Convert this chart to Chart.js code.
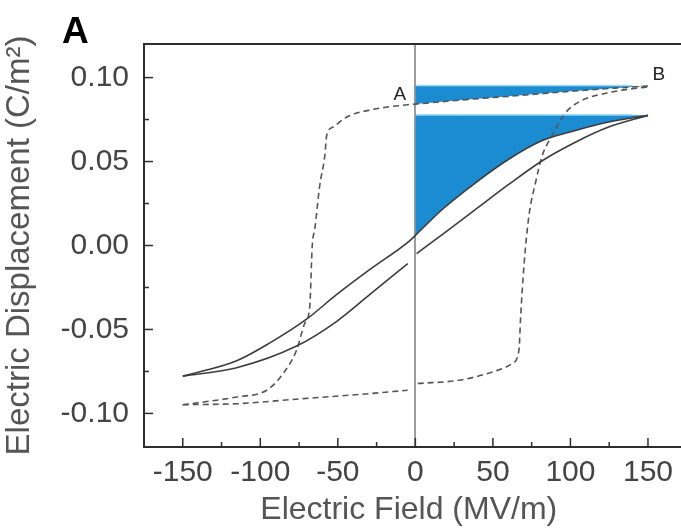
<!DOCTYPE html>
<html>
<head>
<meta charset="utf-8">
<script src="https://cdn.jsdelivr.net/npm/chart.js@4/dist/chart.umd.min.js"></script>
<style>
  html, body { margin: 0; padding: 0; overflow: hidden; background: #fff; }
  #wrap { width: 681px; height: 529px; }
</style>
</head>
<body>
<div id="wrap"><canvas id="myChart"></canvas></div>
<script>
// Ferroelectric loop (dashed): descending branch, listed by increasing E
const ferroDownE = [-150, -136.6, -115.2, -95.9, -85.2, -76.6, -71.3, -68.1, -66.5, -64.9, -61.7, -58.4, -57.2, -53.1, -44.5, -25.2, -4.9, 0, 30, 62.5, 100, 125, 150];
const ferroDownD = [-0.0948, -0.0932, -0.0902, -0.0862, -0.0762, -0.0623, -0.0463, -0.0363, 0.0, 0.0096, 0.0355, 0.0535, 0.0655, 0.0705, 0.0764, 0.0814, 0.0838, 0.0842, 0.0867, 0.089, 0.0918, 0.0935, 0.095];
// ascending branch, negative and positive halves
const ferroUpNegE = [-150, -115.2, -72.4, -29.5, -5];
const ferroUpNegD = [-0.0948, -0.0942, -0.0912, -0.0882, -0.0862];
const ferroUpPosE = [1.5, 28.3, 49.6, 62.5, 66.8, 67.9, 70, 73.2, 77.5, 81.8, 88.2, 96.8, 105.3, 126.7, 150];
const ferroUpPosD = [-0.0822, -0.0802, -0.0753, -0.0703, -0.0623, -0.0423, -0.0124, 0.0175, 0.0375, 0.0535, 0.0655, 0.079, 0.0854, 0.0914, 0.0945];

// Linear dielectric loop (solid): discharge branch
const linDownE = [-150, -115.2, -93.8, -70.2, -50.9, -29.5, -3.9, 0, 17.5, 39, 60.4, 81.8, 103.2, 124.6, 150];
const linDownD = [-0.0778, -0.0686, -0.0580, -0.0439, -0.0293, -0.0144, 0.0026, 0.006, 0.0216, 0.0375, 0.0515, 0.0625, 0.0685, 0.0735, 0.0775];
// charge branch, negative and positive halves
const linUpNegE = [-150, -115.2, -76.6, -50.9, -29.5, -4.9];
const linUpNegD = [-0.0778, -0.0728, -0.0599, -0.0453, -0.0293, -0.0108];
const linUpPosE = [0.8, 17.5, 39, 60.4, 81.8, 103.2, 124.6, 150];
const linUpPosD = [-0.0048, 0.0066, 0.0216, 0.0365, 0.0505, 0.0615, 0.0705, 0.0775];

// maximum displacement of each loop (top of the shaded energy areas)
const ferroDmax = 0.095;
const linDmax = 0.0775;

// point labels
const markLabels = ["A", "B"];
const markE = [-10, 157];
const markD = [0.0895, 0.1018];

// tick positions (major + minor) and the labelled ones
const xTickValues = [-150, -125, -100, -75, -50, -25, 0, 25, 50, 75, 100, 125, 150];
const xTickLabels = [-150, -100, -50, 0, 50, 100, 150];
const yTickLabels = [-0.10, -0.05, 0.00, 0.05, 0.10];

const pts = (xs, ys) => xs.map((x, i) => ({ x: x, y: ys[i] }));
const positiveHalf = (xs, ys) => pts(xs, ys).filter(p => p.x >= 0);

const BLUE = "#1c8cd2";
const FONT = "'Liberation Sans', Arial, sans-serif";

const curve = { pointRadius: 0, fill: false, cubicInterpolationMode: "monotone" };
const solid = { ...curve, borderColor: "#3c3c3c", borderWidth: 1.6 };
const dashed = { ...curve, borderColor: "#555", borderWidth: 1.6, borderDash: [6, 4] };

const framePlugin = {
  id: "frame",
  afterDatasetsDraw(chart) {
    const { ctx, chartArea: a, scales: { x, y } } = chart;
    ctx.save();
    // highlight along the top of the shaded areas
    ctx.strokeStyle = "#9fdcf5";
    ctx.lineWidth = 1.5;
    [ferroDmax, linDmax].forEach(d => {
      const py = y.getPixelForValue(d) - 0.5;
      ctx.beginPath();
      ctx.moveTo(x.getPixelForValue(0) + 1, py);
      ctx.lineTo(x.getPixelForValue(140), py);
      ctx.stroke();
    });

    // open frame: top, left and bottom edges run to the canvas edge
    ctx.strokeStyle = "#2e2e2e";
    ctx.lineWidth = 2;
    ctx.beginPath();
    ctx.moveTo(chart.width, a.top);
    ctx.lineTo(a.left, a.top);
    ctx.lineTo(a.left, a.bottom);
    ctx.lineTo(chart.width, a.bottom);
    ctx.stroke();

    // inward tick marks
    ctx.lineWidth = 1.5;
    x.ticks.forEach(t => {
      const px = x.getPixelForValue(t.value);
      const len = t.value % 50 === 0 ? 9 : 5;
      ctx.beginPath();
      ctx.moveTo(px, a.bottom);
      ctx.lineTo(px, a.bottom - len);
      ctx.stroke();
    });
    y.ticks.forEach(t => {
      if (t.value <= y.min + 1e-9 || t.value >= y.max - 1e-9) return;
      const py = y.getPixelForValue(t.value);
      const major = Math.abs(t.value * 20 - Math.round(t.value * 20)) < 1e-6;
      ctx.beginPath();
      ctx.moveTo(a.left, py);
      ctx.lineTo(a.left + (major ? 9 : 5), py);
      ctx.stroke();
    });

    ctx.fillStyle = "#222";
    ctx.font = "19px " + FONT;
    ctx.textAlign = "center";
    ctx.textBaseline = "middle";
    markLabels.forEach((s, i) => {
      ctx.fillText(s, x.getPixelForValue(markE[i]), y.getPixelForValue(markD[i]));
    });

    ctx.fillStyle = "#000";
    ctx.font = "bold 37px " + FONT;
    ctx.textAlign = "left";
    ctx.textBaseline = "alphabetic";
    ctx.fillText("A", 62, 43);
    ctx.restore();
  }
};

const ctx = document.getElementById("myChart").getContext("2d");
const myChart = new Chart(ctx, {
  type: "line",
  data: {
    datasets: [
      { ...solid, data: pts(linDownE, linDownD) },
      { ...solid, data: pts(linUpNegE, linUpNegD) },
      { ...solid, data: pts(linUpPosE, linUpPosD) },
      { ...dashed, data: pts(ferroDownE, ferroDownD) },
      { ...dashed, data: pts(ferroUpNegE, ferroUpNegD) },
      { ...dashed, data: pts(ferroUpPosE, ferroUpPosD) },
      // shaded energy areas between each discharge branch and its Dmax
      { ...curve, data: positiveHalf(ferroDownE, ferroDownD), borderWidth: 0,
        backgroundColor: BLUE, fill: { value: ferroDmax } },
      { ...curve, data: positiveHalf(linDownE, linDownD), borderWidth: 0,
        backgroundColor: BLUE, fill: { value: linDmax } },
    ],
  },
  options: {
    responsive: true,
    maintainAspectRatio: false,
    animation: false,
    layout: { padding: { top: 44, right: 0, left: 0, bottom: 0 } },
    plugins: { legend: { display: false }, tooltip: { enabled: false } },
    scales: {
      x: {
        type: "linear",
        min: -175,
        max: 166.5,
        afterBuildTicks: (s) => { s.ticks = xTickValues.map(v => ({ value: v })); },
        afterFit: (s) => { s.height = 82; },
        border: { display: false },
        grid: {
          drawTicks: false,
          lineWidth: 2,
          color: (c) => (c.tick && c.tick.value === 0 ? "#9c9c9c" : "rgba(0,0,0,0)"),
        },
        ticks: {
          autoSkip: false,
          maxRotation: 0,
          padding: 8,
          color: "#444",
          font: { family: FONT, size: 30 },
          callback: (v) => (xTickLabels.includes(v) ? String(v) : ""),
        },
        title: {
          display: true,
          text: "Electric Field (MV/m)",
          color: "#555",
          font: { family: FONT, size: 32 },
          padding: 0,
        },
      },
      y: {
        min: -0.12,
        max: 0.12,
        afterFit: (s) => { s.width = 144; },
        border: { display: false },
        grid: { display: false, drawTicks: false },
        ticks: {
          stepSize: 0.025,
          autoSkip: false,
          padding: 15,
          color: "#444",
          font: { family: FONT, size: 30 },
          callback: (v) => {
            const hit = yTickLabels.find(l => Math.abs(l - v) < 1e-6);
            return hit === undefined ? "" : hit.toFixed(2);
          },
        },
        title: {
          display: true,
          text: "Electric Displacement (C/m²)",
          color: "#555",
          font: { family: FONT, size: 33 },
          padding: 0,
        },
      },
    },
  },
  plugins: [framePlugin],
});
</script>
</body>
</html>
